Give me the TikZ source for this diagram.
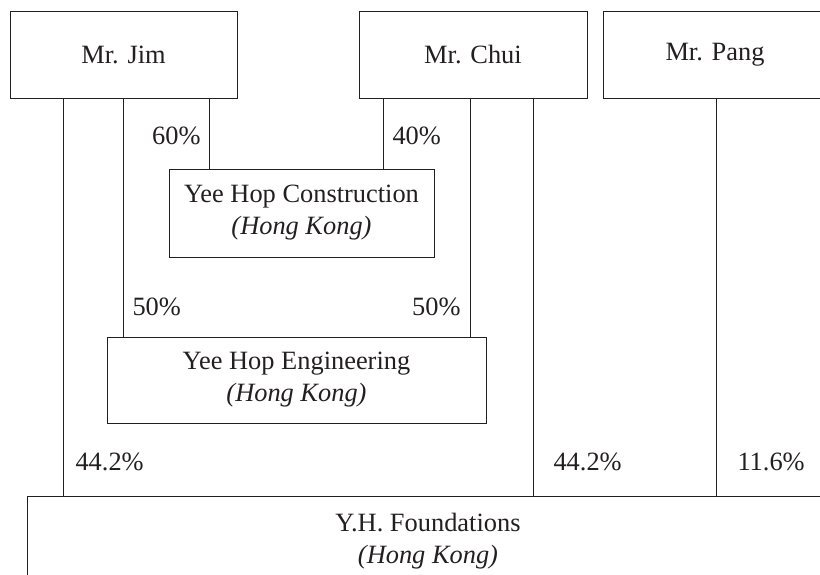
\documentclass[tikz,border=0pt]{standalone}
\usepackage{fontspec}
\setmainfont{Liberation Serif}
\definecolor{ink}{HTML}{231F20}
\tikzset{
    holder/.style={draw=ink,line width=1pt,minimum width=#1,minimum height=87,inner sep=0,align=center},
    share/.style={text=ink,inner sep=0}
}
\begin{document}
\begin{tikzpicture}[x=1pt,y=-1pt,font=\fontsize{26.4}{32}\selectfont,color=ink,line width=1pt]
            \clip(0,0)rectangle(820,574);
            \node[holder=227](jim)at(123.5,54.5){Mr. Jim};
            \node[holder=228](chui)at(473,54.5){Mr. Chui};
            \node[holder=224](pang)at(715,54.5){Mr. Pang};
            \node[holder=265,minimum height=88](yhc)at(301.5,213){Yee Hop Construction\\\textit{(Hong Kong)}};
            \node[holder=379,minimum height=86](yhe)at(296.5,380){Yee Hop Engineering\\\textit{(Hong Kong)}};
            \node[holder=802,minimum height=90](yhf)at(428,541){Y.H. Foundations\\\textit{(Hong Kong)}};
            \coordinate(J1)at(63,0);
            \coordinate(J2)at(123,0);
            \coordinate(J3)at(209,0);
            \coordinate(C1)at(383,0);
            \coordinate(C2)at(470,0);
            \coordinate(C3)at(533,0);
            \coordinate(P1)at(716,0);
            \draw(jim.south-|J3)--(yhc.north-|J3)node[share,pos=0.535,left=8pt]{60\%};
            \draw(chui.south-|C1)--(yhc.north-|C1)node[share,pos=0.535,right=9pt]{40\%};
            \draw(jim.south-|J2)--(yhe.north-|J2)node[share,pos=0.874,right=9pt]{50\%};
            \draw(chui.south-|C2)--(yhe.north-|C2)node[share,pos=0.874,left=9pt]{50\%};
            \draw(jim.south-|J1)--(yhf.north-|J1)node[share,pos=0.915,right=12pt]{44.2\%};
            \draw(chui.south-|C3)--(yhf.north-|C3)node[share,pos=0.915,right=20pt]{44.2\%};
            \draw(pang.south-|P1)--(yhf.north-|P1)node[share,pos=0.915,right=21pt]{11.6\%};
        \end{tikzpicture}
\end{document}
